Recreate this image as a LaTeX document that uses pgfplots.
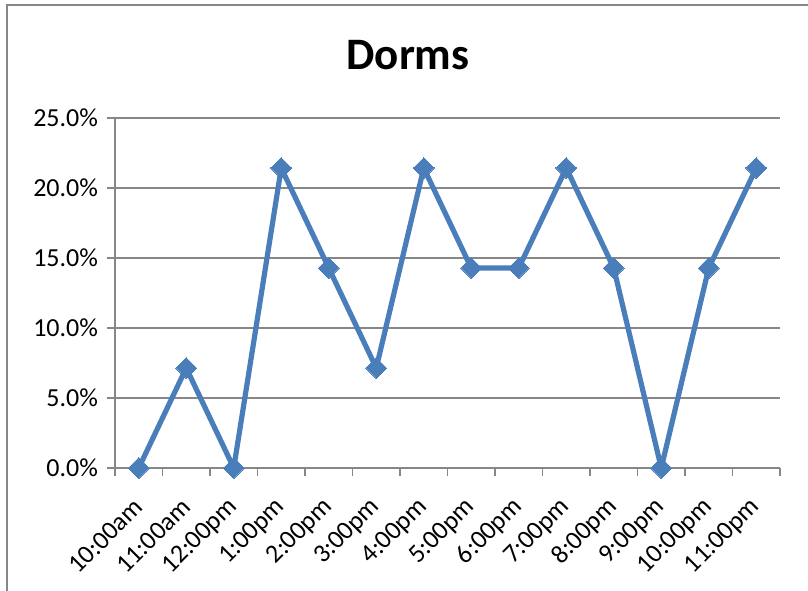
\documentclass[border=0pt]{standalone}
\usepackage{fontspec}
\setmainfont{Carlito}
\usepackage{pgfplots}
\pgfplotsset{compat=1.18}
\definecolor{linebl}{HTML}{4A7EBB}
\definecolor{gridgr}{HTML}{878787}
\begin{document}
\begin{tikzpicture}
% picture is 808x590 px at 0.5pt per px, origin at plot area lower left
\path[use as bounding box] (-57.5pt,-61pt) rectangle (346.5pt,234pt);
\draw[gridgr, line width=0.7pt] (-54pt,-70pt) -- (-54pt,231.5pt) -- (360pt,231.5pt);
\begin{axis}[
    at={(0pt,0pt)}, anchor=south west,
    scale only axis,
    width=332.5pt, height=175pt,
    xmin=-0.5, xmax=13.5,
    ymin=0, ymax=25,
    xtick={0,...,13},
    xticklabels={10:00am,11:00am,12:00pm,1:00pm,2:00pm,3:00pm,4:00pm,5:00pm,6:00pm,7:00pm,8:00pm,9:00pm,10:00pm,11:00pm},
    minor xtick={-0.5,0.5,...,13.5},
    major x tick style={draw=none},
    ytick={0,5,10,15,20,25},
    yticklabel={\pgfmathprintnumber[fixed,fixed zerofill,precision=1]{\tick}\%},
    /pgf/number format/assume math mode=true,
    axis lines*=left,
    axis line style={gridgr, line width=0.75pt, -},
    tick style={gridgr, line width=0.75pt},
    tick align=outside,
    major tick length=4pt,
    minor tick length=4pt,
    ymajorgrids=true,
    grid style={gridgr, line width=0.75pt},
    tick label style={font=\fontsize{13}{15}\selectfont, text=black},
    x tick label style={xshift=0pt, yshift=-13.5pt, rotate=45, anchor=east, inner sep=0pt},
    y tick label style={xshift=-1pt},
    title={Dorms},
    every axis title shift=0pt,
    title style={at={(0.4406,1.14)}, anchor=base, yshift=0pt, font=\fontsize{22.5}{27}\selectfont\bfseries},
    clip=false,
]
\addplot[color=linebl, line width=2.6pt, mark=square*, mark size=3.7pt, mark options={solid, fill=linebl, line width=0pt, rotate=45}]
    coordinates {
    (0,0)(1,7.143)(2,0)(3,21.429)(4,14.286)(5,7.143)(6,21.429)(7,14.286)(8,14.286)(9,21.429)(10,14.286)(11,0)(12,14.286)(13,21.429)
    };
\end{axis}
\end{tikzpicture}
\end{document}
